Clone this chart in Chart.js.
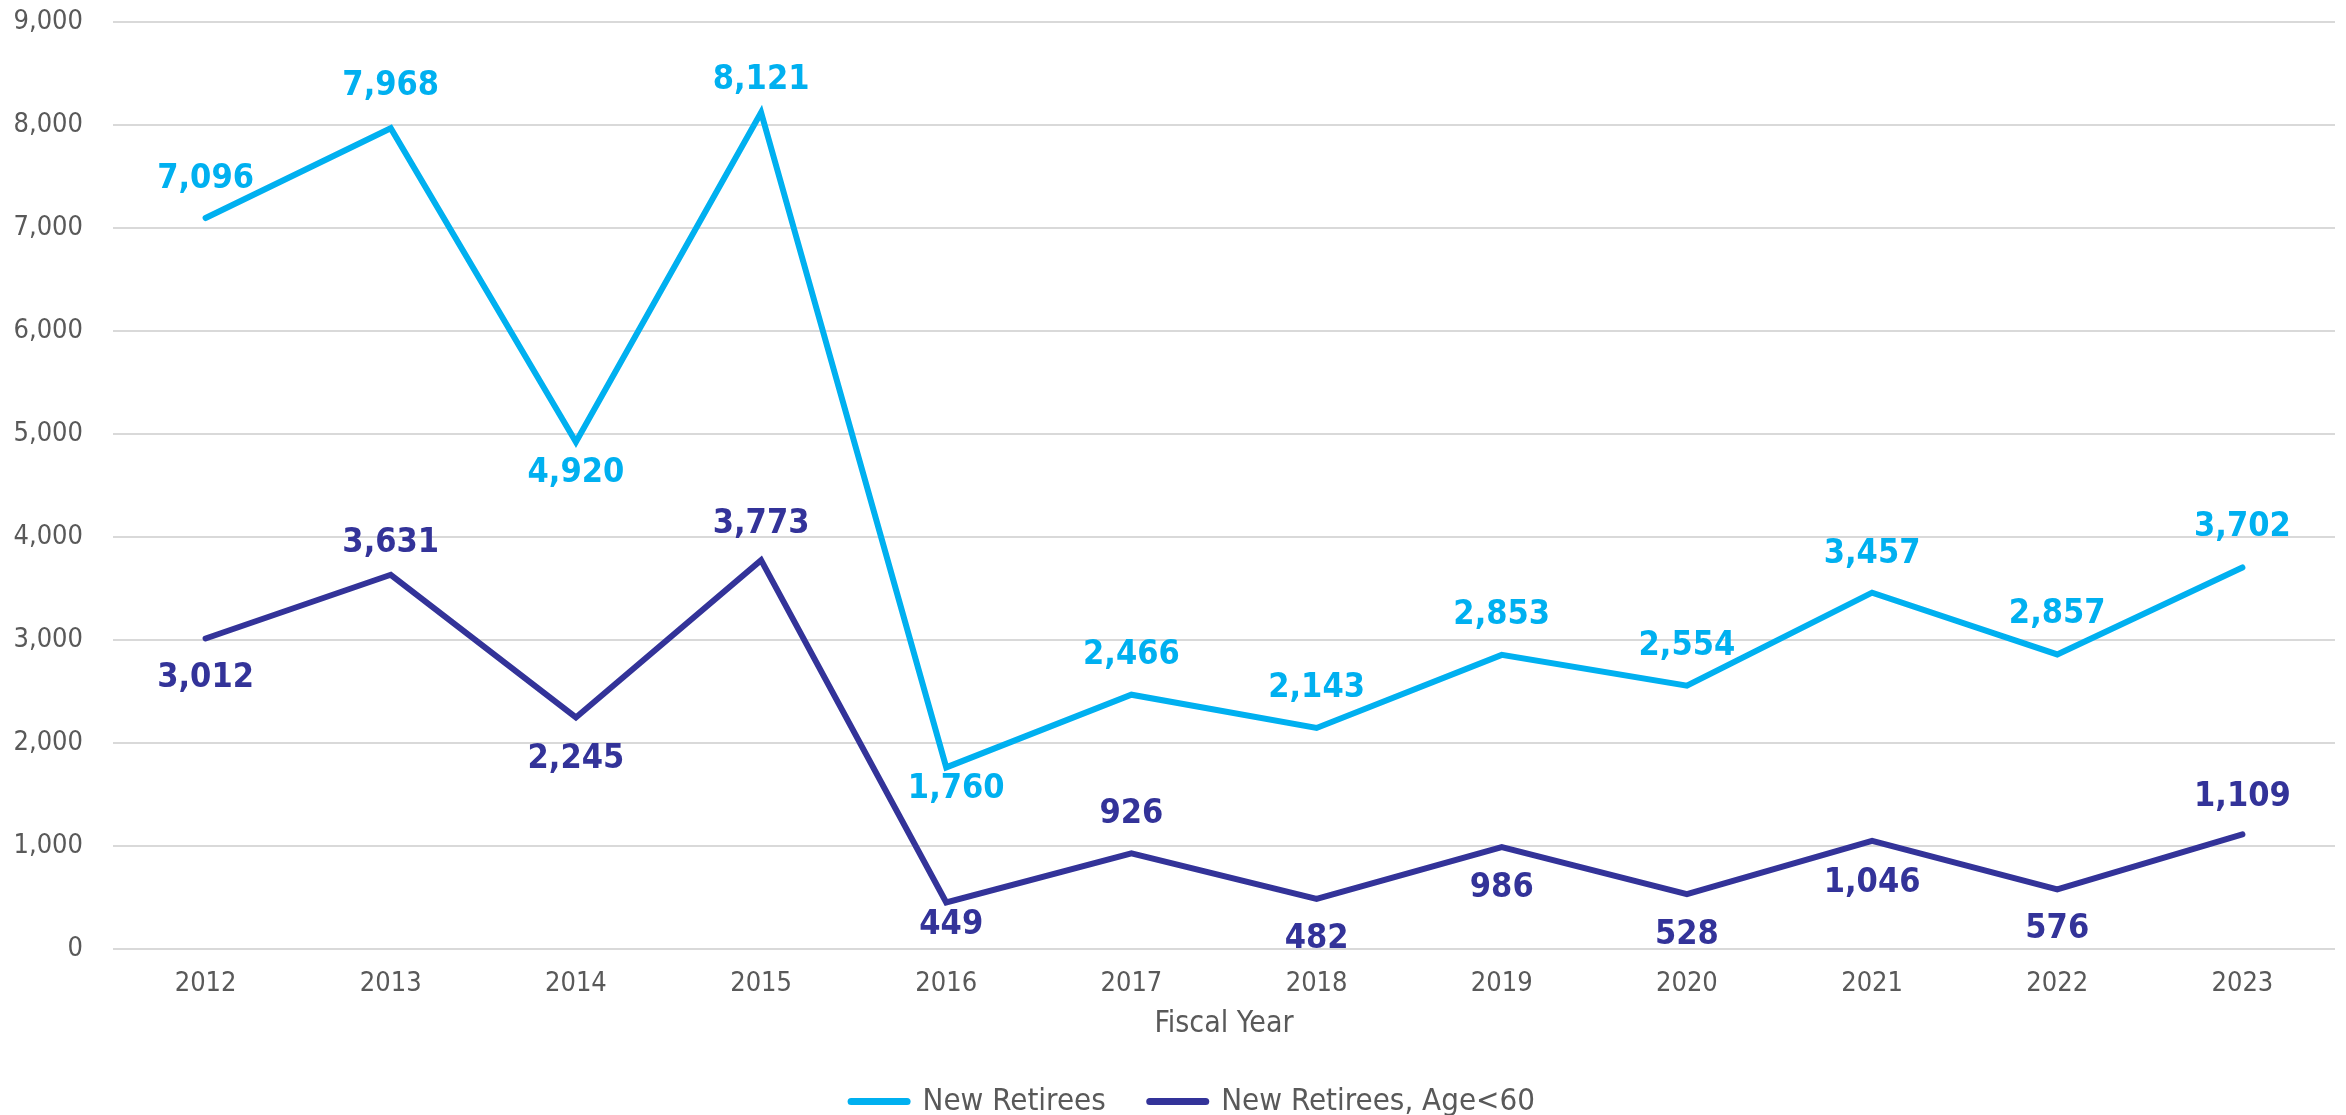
<!DOCTYPE html>
<html>
<head>
<meta charset="utf-8">
<script src="https://cdn.jsdelivr.net/npm/chart.js@4.4.1/dist/chart.umd.min.js"></script>
<style>
html, body { margin: 0; padding: 0; background: #ffffff; }
#wrap { width: 2346px; height: 1115px; }
</style>
</head>
<body>
<div id="wrap"><canvas id="c" width="2346" height="1115"></canvas></div>
<script>
// ---- data ----
const categories = ['2012','2013','2014','2015','2016','2017','2018','2019','2020','2021','2022','2023'];
const newRetirees = [7096, 7968, 4920, 8121, 1760, 2466, 2143, 2853, 2554, 3457, 2857, 3702];
const newRetireesUnder60 = [3012, 3631, 2245, 3773, 449, 926, 482, 986, 528, 1046, 576, 1109];
const yTickValues = [0, 1000, 2000, 3000, 4000, 5000, 6000, 7000, 8000, 9000];
const seriesNames = ['New Retirees', 'New Retirees, Age<60'];
const xAxisTitle = 'Fiscal Year';

// ---- data label placement (style only) ----
const labelSideNew = ['above','above','below','above','below','above','above','above','above','above','above','above'];
const labelSideUnder60 = ['below','above','below','above','below','above','below','below','below','below','below','above'];
const labelGapNew = [39, 42, 31, 32, 22, 40, 40, 40, 39, 39, 40, 40];
const labelGapUnder60 = [40, 32, 42, 36, 23, 39, 40, 41, 41, 42, 40, 37];
const labelShiftNew = [0, 0, 0, 0, 10, 0, 0, 0, 0, 0, 0, 0];
const labelShiftUnder60 = [0, 0, 0, 0, 5, 0, 0, 0, 0, 0, 0, 0];

const LIGHT = '#00B0F0';
const DARK = '#333399';
const GREY_TEXT = '#595959';
const GRID = '#D9D9D9';
const FONT = '"DejaVu Sans Condensed", "DejaVu Sans", sans-serif';
const LEGEND_SHIFT = 51;

const dataLabelPlugin = {
  id: 'dataLabels',
  afterDatasetsDraw(chart) {
    const ctx = chart.ctx;
    const sides = [labelSideNew, labelSideUnder60];
    const gaps = [labelGapNew, labelGapUnder60];
    const shifts = [labelShiftNew, labelShiftUnder60];
    const colors = [LIGHT, DARK];
    ctx.save();
    ctx.font = 'bold 34px ' + FONT;
    ctx.textAlign = 'center';
    ctx.textBaseline = 'middle';
    chart.data.datasets.forEach((ds, di) => {
      const meta = chart.getDatasetMeta(di);
      ctx.fillStyle = colors[di];
      meta.data.forEach((pt, i) => {
        const v = ds.data[i];
        const off = gaps[di][i] * (sides[di][i] === 'above' ? -1 : 1);
        ctx.fillText(v.toLocaleString('en-US'), pt.x + shifts[di][i], pt.y + off);
      });
    });
    ctx.restore();
  }
};

// centre the legend row under the plot like the reference
const legendShiftPlugin = {
  id: 'legendShift',
  afterLayout(chart) {
    if (chart.legend) { chart.legend.left += LEGEND_SHIFT; }
  }
};

new Chart(document.getElementById('c'), {
  type: 'line',
  data: {
    labels: categories,
    datasets: [
      {
        label: seriesNames[0],
        data: newRetirees,
        borderColor: LIGHT,
        backgroundColor: LIGHT,
        borderWidth: 6,
        pointRadius: 0,
        pointHoverRadius: 0,
        tension: 0,
        borderCapStyle: 'round',
        fill: false
      },
      {
        label: seriesNames[1],
        data: newRetireesUnder60,
        borderColor: DARK,
        backgroundColor: DARK,
        borderWidth: 6,
        pointRadius: 0,
        pointHoverRadius: 0,
        tension: 0,
        borderCapStyle: 'round',
        fill: false
      }
    ]
  },
  options: {
    responsive: false,
    animation: false,
    devicePixelRatio: 1,
    layout: { padding: { top: 22, right: 11, left: 0, bottom: -12 } },
    plugins: {
      tooltip: { enabled: false },
      legend: {
        position: 'bottom',
        labels: {
          usePointStyle: true,
          pointStyle: 'line',
          pointStyleWidth: 56,
          color: GREY_TEXT,
          font: { family: FONT, size: 31 },
          padding: 44,
          generateLabels(chart) {
            const items = Chart.defaults.plugins.legend.labels.generateLabels(chart);
            items.forEach(it => { it.lineWidth = 7; it.lineCap = 'round'; it.pointStyle = 'line'; it.fontColor = GREY_TEXT; });
            return items;
          }
        }
      }
    },
    scales: {
      x: {
        offset: true,
        grid: { display: false, drawTicks: false },
        border: { display: false },
        ticks: {
          color: GREY_TEXT,
          font: { family: FONT, size: 27 },
          padding: 19,
          maxRotation: 0,
          autoSkip: false
        },
        title: {
          display: true,
          text: xAxisTitle,
          color: GREY_TEXT,
          font: { family: FONT, size: 30 },
          padding: { top: -13, bottom: 0 }
        }
      },
      y: {
        min: 0,
        max: 9000,
        afterBuildTicks(scale) { scale.ticks = yTickValues.map(v => ({ value: v })); },
        afterFit(scale) { scale.width = 113; scale.paddingTop = 0; scale.paddingBottom = 0; },
        grid: { color: GRID, lineWidth: 2, drawTicks: false },
        border: { display: false },
        ticks: {
          color: GREY_TEXT,
          font: { family: FONT, size: 27 },
          padding: 30,
          callback: v => Number(v).toLocaleString('en-US')
        }
      }
    }
  },
  plugins: [dataLabelPlugin, legendShiftPlugin]
});
</script>
</body>
</html>
